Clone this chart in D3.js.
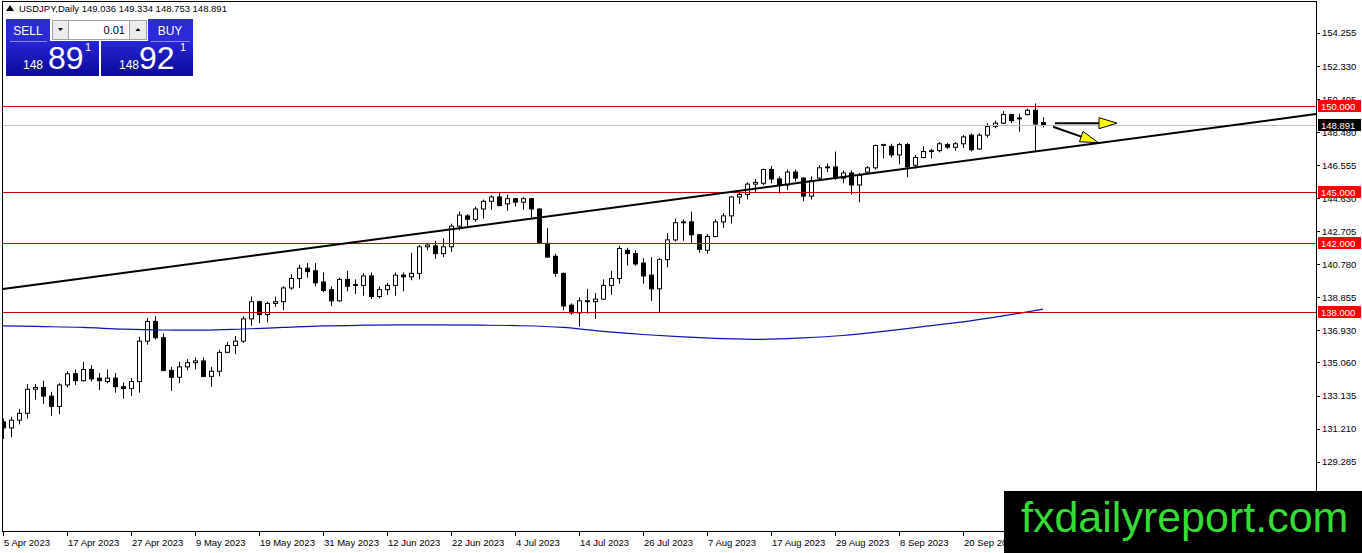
<!DOCTYPE html>
<html>
<head>
<meta charset="utf-8">
<script src="https://cdn.jsdelivr.net/npm/d3@7"></script>
<style>
  html, body { margin: 0; padding: 0; background: #fff; }
  svg { display: block; }
  text { font-family: "Liberation Sans", Arial, sans-serif; }
</style>
</head>
<body>
<svg id="chart" width="1362" height="553"></svg>
<script>
// USDJPY daily, 5 Apr 2023 .. 4 Oct 2023 (one value per bar)
const open = [131.60,131.25,131.70,132.10,133.50,133.60,133.10,132.50,133.75,134.40,
  134.00,134.65,134.15,133.95,134.15,133.65,133.55,133.95,136.30,137.45,
  136.50,134.60,134.20,134.80,135.05,135.15,134.25,134.55,135.65,136.05,
  136.30,137.60,138.60,137.85,138.50,138.60,139.40,139.95,140.55,140.40,
  139.75,139.30,138.65,139.90,139.60,139.55,140.10,138.90,139.30,139.55,
  140.15,140.05,140.25,141.80,141.85,141.40,141.80,143.00,143.60,143.40,
  144.00,144.45,144.70,144.30,144.60,144.40,144.60,144.00,142.00,141.25,
  140.25,138.40,137.95,138.65,138.60,138.75,139.55,139.95,141.60,141.40,
  140.85,140.15,139.35,141.05,142.20,143.20,143.25,142.50,141.60,142.40,
  143.25,143.60,144.70,144.85,145.45,145.50,146.30,145.75,145.40,146.15,
  145.80,144.75,145.80,146.40,146.45,145.80,146.10,145.40,146.15,146.40,
  147.70,147.65,147.15,147.75,146.55,147.00,147.35,147.40,147.75,147.60,
  147.80,148.30,147.50,148.30,148.80,149.00,149.50,149.30,149.50,149.75,
  149.036];
const high = [131.80,131.90,132.35,133.80,133.80,134.00,133.35,133.85,134.55,134.65,
  135.10,134.90,134.45,134.65,134.45,133.90,134.15,136.55,137.65,137.75,
  136.75,134.80,135.10,135.25,135.35,135.35,134.80,135.80,136.25,136.60,
  137.75,138.90,138.65,138.60,138.90,139.50,140.20,140.75,140.85,140.85,
  140.30,139.50,140.00,140.40,139.90,140.25,140.30,139.50,139.70,140.30,
  140.30,141.45,141.90,141.95,142.15,142.30,143.15,143.85,143.70,144.15,
  144.55,144.80,144.95,144.85,144.65,144.70,144.65,144.05,142.90,141.40,
  140.30,138.50,138.85,139.35,139.10,139.90,140.40,141.85,141.75,141.60,
  141.15,141.20,141.15,142.60,143.45,143.40,143.85,142.55,142.55,143.40,
  143.75,144.75,145.00,145.55,145.75,146.35,146.50,145.90,146.30,146.30,
  145.85,145.90,146.55,146.65,147.35,146.25,146.25,146.10,146.50,147.75,
  147.80,147.80,147.85,147.85,147.15,147.65,147.50,147.90,147.85,147.90,
  148.30,148.40,148.40,149.00,149.15,149.70,149.55,149.55,149.85,150.15,
  149.334];
const low = [130.60,130.70,131.45,131.80,132.90,132.65,131.95,132.05,133.60,133.75,
  133.95,133.95,133.45,133.85,133.30,132.95,133.10,133.30,136.10,136.40,
  134.55,133.40,133.85,134.60,134.65,134.20,133.65,134.25,135.60,135.55,
  136.20,137.20,137.35,137.40,138.30,138.10,139.30,139.40,140.00,139.50,
  139.15,138.35,138.60,139.20,139.05,138.95,138.75,138.80,139.00,138.95,
  139.20,139.85,139.90,141.60,141.10,141.20,141.50,142.75,142.90,143.25,
  143.45,143.95,144.15,143.90,144.15,143.95,143.50,141.95,141.15,140.05,
  138.10,137.85,137.15,137.90,137.60,138.70,139.00,139.65,140.70,140.70,
  139.65,138.65,138.00,140.60,142.10,142.15,142.00,141.45,141.40,142.35,
  142.90,143.15,144.30,144.55,145.00,145.40,145.50,144.90,145.10,145.60,
  144.45,144.55,145.70,146.15,145.70,145.50,144.85,144.40,146.10,146.30,
  146.95,147.00,146.60,145.85,146.35,146.95,146.95,147.30,147.50,147.40,
  147.55,147.35,147.45,148.15,148.70,148.95,149.00,148.50,149.45,147.35,
  148.753];
const close = [131.25,131.70,132.10,133.50,133.60,133.10,132.50,133.75,134.40,134.00,
  134.65,134.10,134.00,134.15,133.65,133.55,133.95,136.30,137.45,136.50,
  134.60,134.20,134.80,135.05,135.15,134.25,134.55,135.65,136.05,136.30,
  137.60,138.60,137.85,138.50,138.60,139.40,139.95,140.55,140.35,139.70,
  139.25,138.65,139.90,139.50,139.55,140.10,138.90,139.30,139.55,140.15,
  140.05,140.25,141.80,141.90,141.40,141.80,143.00,143.65,143.40,144.00,
  144.45,144.70,144.20,144.60,144.40,144.60,144.00,142.00,141.20,140.25,
  138.35,137.95,138.65,138.60,138.75,139.55,139.95,141.70,141.40,140.80,
  140.10,139.35,141.05,142.20,143.20,143.25,142.50,141.65,142.40,143.25,
  143.60,144.70,144.85,145.45,145.55,146.30,145.75,145.40,146.15,145.80,
  144.75,145.65,146.40,146.45,145.80,146.10,145.40,145.95,146.40,147.70,
  147.75,147.15,147.75,146.45,147.00,147.35,147.40,147.80,147.60,147.80,
  148.20,147.45,148.30,148.80,149.00,149.50,149.15,149.25,149.75,148.95,
  148.891];

// moving average read at sampled bars
const maBars   = [0,5,10,15,20,25,30,35,40,45,50,60,65,70,75,80,85,90,95,100,105,110,115,120,125,130];
const maValues = [137.19,137.15,137.10,137.00,136.95,136.94,137.01,137.10,137.19,137.23,137.25,137.23,137.20,137.10,136.87,136.69,136.55,136.45,136.41,136.49,136.63,136.87,137.15,137.42,137.77,138.16];

// horizontal levels and current price
const levels = [150.000, 145.000, 142.000, 138.000];
const lastPrice = 148.891;

// trendline (bar, price) and arrows
const trendBars = [0, 164.1];
const trendPrices = [139.34, 149.53];
const arrowFrom = [[131.5, 149.00], [131.25, 148.79]];
const arrowTo   = [[139.25, 149.00], [136.9, 147.87]];

// axes
const priceTicks = [154.255,152.330,150.405,148.480,146.555,144.630,142.705,140.780,138.855,136.930,135.060,133.135,131.210,129.285];
const dateTickBars = [0,8,16,24,32,40,48,56,64,72,80,88,96,104,112,120];
const dateTickLabels = ["5 Apr 2023","17 Apr 2023","27 Apr 2023","9 May 2023","19 May 2023","31 May 2023","12 Jun 2023","22 Jun 2023","4 Jul 2023","14 Jul 2023","26 Jul 2023","7 Aug 2023","17 Aug 2023","29 Aug 2023","8 Sep 2023","20 Sep 2023"];

const plot = { left: 2, top: 1, right: 1316, bottom: 531 };

const svg = d3.select("#chart");
const x = d3.scaleLinear().domain([0, 130]).range([3, 1043]);
const y = d3.scaleLinear().domain([138, 150]).range([312, 106]);

const defs = svg.append("defs");
defs.append("clipPath").attr("id", "plotClip")
  .append("rect").attr("x", plot.left).attr("y", plot.top)
  .attr("width", plot.right - plot.left).attr("height", plot.bottom - plot.top);

const g = svg.append("g").attr("clip-path", "url(#plotClip)");

// candles
const bars = d3.range(open.length);
g.selectAll(".wick").data(bars).enter().append("line")
  .attr("x1", i => Math.round(x(i)) + 0.5).attr("x2", i => Math.round(x(i)) + 0.5)
  .attr("y1", i => y(high[i])).attr("y2", i => y(low[i]))
  .attr("stroke", "#000").attr("stroke-width", 1);

g.selectAll(".body").data(bars).enter().append("rect")
  .attr("x", i => Math.round(x(i)) - 1.5)
  .attr("width", 4)
  .attr("y", i => y(Math.max(open[i], close[i])))
  .attr("height", i => Math.max(0.5, Math.abs(y(open[i]) - y(close[i]))))
  .attr("fill", i => close[i] >= open[i] ? "#fff" : "#000")
  .attr("stroke", "#000").attr("stroke-width", 1);

// moving average
g.append("path")
  .datum(d3.zip(maBars, maValues))
  .attr("d", d3.line().x(d => x(d[0])).y(d => y(d[1])).curve(d3.curveMonotoneX))
  .attr("fill", "none").attr("stroke", "#1010b0").attr("stroke-width", 1.2);

// current price line
g.append("line")
  .attr("x1", plot.left).attr("x2", plot.right)
  .attr("y1", Math.round(y(lastPrice)) + 0.5).attr("y2", Math.round(y(lastPrice)) + 0.5)
  .attr("stroke", "#c0c0c0").attr("stroke-width", 1);

// horizontal levels
g.selectAll(".level").data(levels).enter().append("line")
  .attr("x1", plot.left).attr("x2", plot.right)
  .attr("y1", d => Math.round(y(d)) + 0.5).attr("y2", d => Math.round(y(d)) + 0.5)
  .attr("stroke", "#d00000").attr("stroke-width", 1);

// trendline
g.append("line")
  .attr("x1", x(trendBars[0])).attr("y1", y(trendPrices[0]))
  .attr("x2", x(trendBars[1])).attr("y2", y(trendPrices[1]))
  .attr("stroke", "#000").attr("stroke-width", 2);

// arrows
arrowFrom.forEach((a, k) => {
  const b = arrowTo[k];
  const x0 = x(a[0]), y0 = y(a[1]), x1 = x(b[0]), y1 = y(b[1]);
  const ang = Math.atan2(y1 - y0, x1 - x0);
  const len = 18, half = 5.5;
  const bx = x1 - len * Math.cos(ang), by = y1 - len * Math.sin(ang);
  g.append("line").attr("x1", x0).attr("y1", y0).attr("x2", bx).attr("y2", by)
    .attr("stroke", "#000").attr("stroke-width", 2);
  const pts = [[x1, y1],
    [bx + half * Math.sin(ang), by - half * Math.cos(ang)],
    [bx - half * Math.sin(ang), by + half * Math.cos(ang)]];
  g.append("polygon").attr("points", pts.map(p => p.join(",")).join(" "))
    .attr("fill", "#ffff00").attr("stroke", "#000").attr("stroke-width", 1);
});

// frame
svg.append("rect")
  .attr("x", plot.left + 0.5).attr("y", plot.top + 0.5)
  .attr("width", plot.right - plot.left).attr("height", plot.bottom - plot.top)
  .attr("fill", "none").attr("stroke", "#000").attr("stroke-width", 1);

// price axis
const pa = svg.append("g");
pa.selectAll(".pt").data(priceTicks).enter().append("line")
  .attr("x1", plot.right + 0.5).attr("x2", plot.right + 4)
  .attr("y1", d => Math.round(y(d)) + 0.5).attr("y2", d => Math.round(y(d)) + 0.5)
  .attr("stroke", "#000");
pa.selectAll(".pl").data(priceTicks).enter().append("text")
  .attr("x", plot.right + 6).attr("y", d => y(d) + 3.5)
  .attr("font-size", "9.5px").attr("fill", "#000")
  .text(d => d.toFixed(3));

// level labels (drawn over the tick labels, as on the terminal)
function priceTag(v, bg) {
  const cy = Math.round(y(v));
  pa.append("rect").attr("x", plot.right + 2).attr("y", cy - 6)
    .attr("width", 43).attr("height", 12).attr("fill", bg);
  pa.append("text").attr("x", plot.right + 5).attr("y", cy + 4)
    .attr("font-size", "9.5px").attr("fill", "#fff").text(v.toFixed(3));
}
levels.forEach(v => priceTag(v, "#ff0000"));
priceTag(lastPrice, "#000");

// date axis
const da = svg.append("g");
da.selectAll(".dt").data(dateTickBars).enter().append("line")
  .attr("x1", d => Math.round(x(d)) + 0.5).attr("x2", d => Math.round(x(d)) + 0.5)
  .attr("y1", plot.bottom).attr("y2", plot.bottom + 5)
  .attr("stroke", "#000");
da.selectAll(".dl").data(dateTickBars).enter().append("text")
  .attr("x", d => Math.round(x(d)) + 1).attr("y", 546)
  .attr("font-size", "9.5px").attr("fill", "#000")
  .text((d, i) => dateTickLabels[i]);

// header
svg.append("path").attr("d", "M6,11 L10,5 L14,11 Z").attr("fill", "#000");
svg.append("text").attr("x", 19).attr("y", 12).attr("font-size", "9.5px")
  .text("USDJPY,Daily  149.036 149.334 148.753 148.891");

// trade panel
const grad = defs.append("linearGradient").attr("id", "bluegrad")
  .attr("x1", 0).attr("y1", 0).attr("x2", 0).attr("y2", 1);
grad.append("stop").attr("offset", "0%").attr("stop-color", "#2626d8");
grad.append("stop").attr("offset", "100%").attr("stop-color", "#0a0a96");

const panel = svg.append("g");
panel.append("rect").attr("x", 6).attr("y", 19).attr("width", 44).attr("height", 22).attr("fill", "#2a2ad6");
panel.append("rect").attr("x", 148).attr("y", 19).attr("width", 45).attr("height", 22).attr("fill", "#2a2ad6");
panel.append("rect").attr("x", 6).attr("y", 41).attr("width", 93).attr("height", 35).attr("fill", "url(#bluegrad)");
panel.append("rect").attr("x", 101).attr("y", 41).attr("width", 92).attr("height", 35).attr("fill", "url(#bluegrad)");
panel.append("line").attr("x1", 10).attr("x2", 47).attr("y1", 41.5).attr("y2", 41.5).attr("stroke", "#8c8cf0");
panel.append("line").attr("x1", 151).attr("x2", 190).attr("y1", 41.5).attr("y2", 41.5).attr("stroke", "#8c8cf0");
panel.append("rect").attr("x", 52.5).attr("y", 20.5).attr("width", 16).attr("height", 19).attr("fill", "#ececec").attr("stroke", "#a0a0a0");
panel.append("rect").attr("x", 68.5).attr("y", 20.5).attr("width", 61).attr("height", 19).attr("fill", "#fff").attr("stroke", "#a0a0a0");
panel.append("rect").attr("x", 129.5).attr("y", 20.5).attr("width", 17).attr("height", 19).attr("fill", "#ececec").attr("stroke", "#a0a0a0");
panel.append("path").attr("d", "M58,28 L63,28 L60.5,31 Z").attr("fill", "#000");
panel.append("path").attr("d", "M135.5,31 L140.5,31 L138,28 Z").attr("fill", "#000");
panel.append("text").attr("x", 125).attr("y", 34).attr("text-anchor", "end").attr("font-size", "11px").text("0.01");
panel.append("text").attr("x", 28).attr("y", 35).attr("text-anchor", "middle").attr("font-size", "12px").attr("fill", "#fff").text("SELL");
panel.append("text").attr("x", 170).attr("y", 35).attr("text-anchor", "middle").attr("font-size", "12px").attr("fill", "#fff").text("BUY");
[[23, 48, 85, "89"], [119, 139, 180, "92"]].forEach(([sx, bx, ex, big]) => {
  panel.append("text").attr("x", sx).attr("y", 69).attr("font-size", "12px").attr("fill", "#fff").text("148");
  panel.append("text").attr("x", bx).attr("y", 69).attr("font-size", "32px").attr("fill", "#fff").text(big);
  panel.append("text").attr("x", ex).attr("y", 51).attr("font-size", "11px").attr("fill", "#fff").text("1");
});

// watermark
svg.append("rect").attr("x", 1004).attr("y", 491).attr("width", 358).attr("height", 62).attr("fill", "#000");
svg.append("text").attr("x", 1021).attr("y", 532).attr("font-size", "43px")
  .attr("fill", "#33dd33").text("fxdailyreport.com");
</script>
</body>
</html>
